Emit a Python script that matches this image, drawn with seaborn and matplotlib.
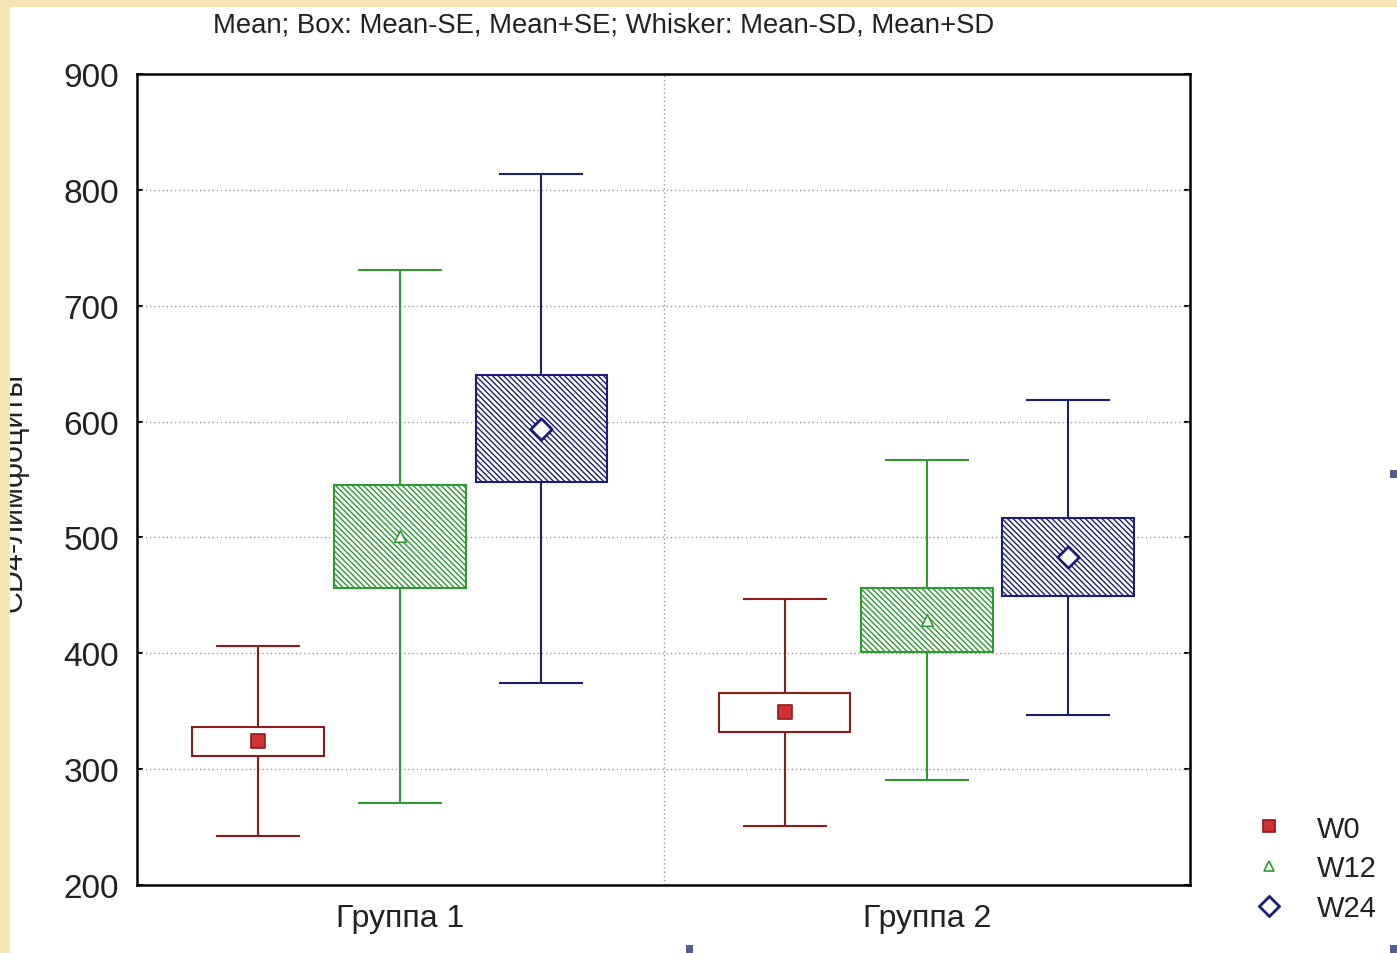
import numpy as np
import pandas as pd
import matplotlib
matplotlib.use('Agg')
import matplotlib.pyplot as plt
from matplotlib.lines import Line2D
from matplotlib.patches import Rectangle
import seaborn as sns

# data: mean, SE (box), SD (whisker)
groups = ['Группа 1', 'Группа 2']
weeks = ['W0', 'W12', 'W24']
mean_g1 = [324, 501, 594]
mean_g2 = [349, 429, 483]
se_g1 = [12.5, 44.5, 46]
se_g2 = [17, 27.5, 34]
sd_g1 = [82, 230, 220]
sd_g2 = [98, 138, 136]

rows = []
for gi, (g, m, se, sd) in enumerate([(groups[0], mean_g1, se_g1, sd_g1), (groups[1], mean_g2, se_g2, sd_g2)]):
    for wi, w in enumerate(weeks):
        rows.append({'group': g, 'gi': gi, 'week': w, 'wi': wi, 'mean': m[wi], 'se': se[wi], 'sd': sd[wi]})
df = pd.DataFrame(rows)

offsets = {'W0': -0.27, 'W12': 0.0, 'W24': 0.268}
df['pos'] = df['gi'] + df['week'].map(offsets)

line_col = {'W0': '#8e1b1b', 'W12': '#2f9a2f', 'W24': '#1c1c7a'}
face_col = {'W0': '#d03232', 'W12': 'white', 'W24': 'white'}
mk = {'W0': 's', 'W12': '^', 'W24': 'D'}
msize = {'W0': 90, 'W12': 70, 'W24': 120}
hatch = {'W0': None, 'W12': '\\' * 6, 'W24': '\\' * 6}

sns.set_theme(style='white')
plt.rcParams['font.family'] = ['Liberation Sans', 'DejaVu Sans']
plt.rcParams['hatch.linewidth'] = 1.0

fig = plt.figure(figsize=(13.97, 9.54), dpi=100)
fig.patch.set_facecolor('white')
ax = fig.add_axes([0.0981, 0.0713, 0.7538, 0.8501])

for w in weeks:
    sub = df[df['week'] == w]
    c = line_col[w]
    ax.errorbar(sub['pos'], sub['mean'], yerr=sub['sd'], fmt='none', ecolor=c,
                elinewidth=1.5, capsize=30, capthick=1.5, zorder=2)
    ax.bar(sub['pos'], 2 * sub['se'], bottom=sub['mean'] - sub['se'], width=0.25,
           facecolor='white', edgecolor=c, linewidth=1.5, hatch=hatch[w], zorder=3)
    sns.scatterplot(data=sub, x='pos', y='mean', marker=mk[w], s=msize[w],
                    color=face_col[w], edgecolor=c, linewidth=2 if w == 'W24' else 1.2,
                    zorder=5, ax=ax, legend=False)

ax.set_xlim(-0.5, 1.5)
ax.set_ylim(200, 900)
ax.set_yticks(range(200, 901, 100))
ax.set_xticks([0, 1])
ax.set_xticklabels(groups)
ax.set_xlabel('')
ax.set_ylabel('')
ax.grid(False)
for y in range(300, 900, 100):
    ax.axhline(y, color='#9a9a9a', lw=1, ls=(0, (1, 2)), zorder=1)
ax.axvline(0.5, color='#9a9a9a', lw=1, ls=(0, (1, 2)), zorder=1)

ax.tick_params(axis='y', labelsize=24, direction='in', length=4, width=1.5,
               left=True, right=True, pad=13, colors='black')
ax.tick_params(axis='x', labelsize=23, length=0, pad=13)
for t in ax.get_yticklabels() + ax.get_xticklabels():
    t.set_color('#222222')
for s in ax.spines.values():
    s.set_color('black')
    s.set_linewidth(1.8)

fig.text(604 / 1397, 1 - 26 / 954, 'Mean; Box: Mean-SE, Mean+SE; Whisker: Mean-SD, Mean+SD',
         ha='center', va='center', fontsize=19.8, color='#222222')
fig.text(14 / 1397, 1 - 492 / 954, 'CD4-лимфоциты', rotation=90, ha='center', va='center',
         fontsize=22, color='#222222')

handles = [Line2D([], [], ls='none', marker=mk[w], markersize={'W0': 9, 'W12': 7, 'W24': 10}[w],
                  markerfacecolor=face_col[w], markeredgecolor=line_col[w],
                  markeredgewidth=2 if w == 'W24' else 1.2) for w in weeks]
fig.legend(handles, weeks, loc='upper left', bbox_to_anchor=(1240 / 1397, 1 - 804 / 954),
           frameon=False, fontsize=21, handlelength=1.2, handletextpad=1.05, labelspacing=0.4,
           borderaxespad=0, labelcolor='#222222')

# pale yellow slide border on left and top
fig.patches.append(Rectangle((0, 0), 10 / 1397, 1, transform=fig.transFigure,
                             facecolor='#f7e6b4', edgecolor='none', zorder=10))
fig.patches.append(Rectangle((0, 1 - 8 / 954), 1, 8 / 954, transform=fig.transFigure,
                             facecolor='#f7e6b4', edgecolor='none', zorder=10))
for (px, py) in [(1390, 475), (686, 950), (1390, 950)]:
    fig.patches.append(Rectangle((px / 1397, 1 - (py + 4) / 954), 7 / 1397, 8 / 954,
                                 transform=fig.transFigure, facecolor='#4f6090',
                                 edgecolor='none', zorder=10))

fig.savefig('out.png', dpi=100)
